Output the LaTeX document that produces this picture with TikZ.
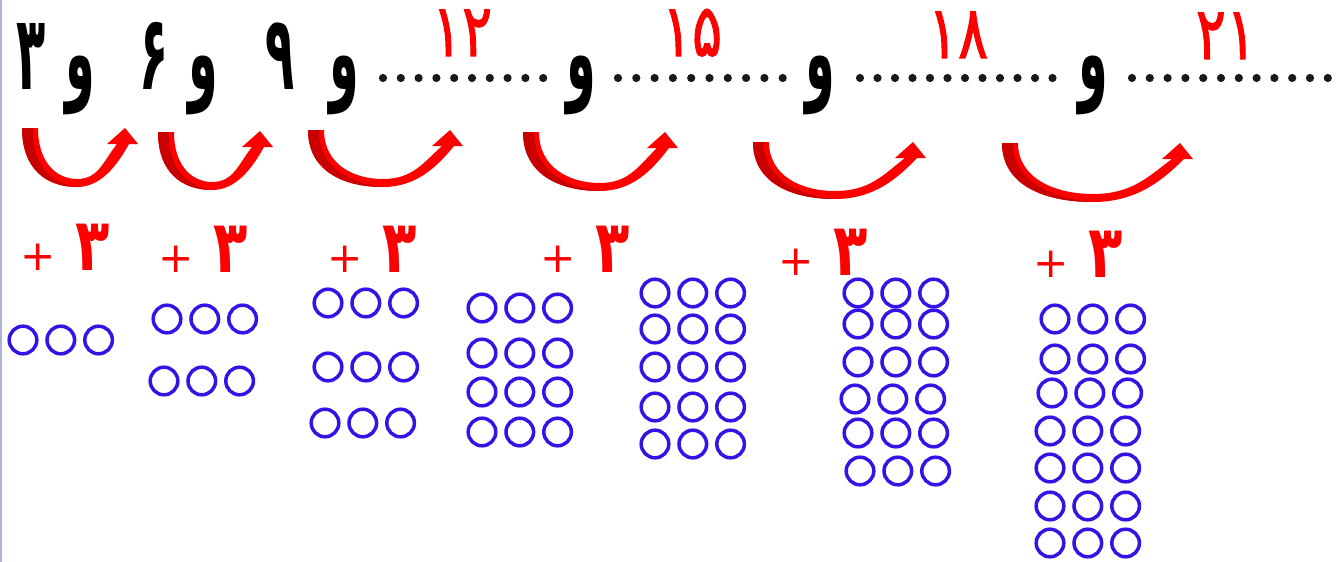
\documentclass[tikz,border=0pt]{standalone}
\usepackage{fontspec}
\usepackage{graphicx}
\newfontfamily\persianfont[Script=Arabic]{DejaVu Sans}
\newfontfamily\persianmedium[Script=Arabic,FakeBold=1.6]{DejaVu Sans}
\definecolor{beadblue}{RGB}{50,20,230}
\definecolor{hopdark}{RGB}{200,0,0}
\definecolor{edgeblue}{RGB}{170,180,215}
\newcommand{\tallnum}[1]{\scalebox{0.85}[1.85]{#1}}
\newcommand{\rednumber}[1]{\scalebox{1}[1.3]{#1}}
% #1,#2 start of the arrow, #3,#4 lowest point, #5,#6 tip
\newcommand{\hop}[6]{%
	\fill[hop] (#1,#2) .. controls (#1,{#2+0.7*(#4-#2)}) and ({#3-0.55*(#3-#1)},#4) .. (#3,#4)
		.. controls ({#3+0.5*(#5-#3)},#4) and ({#5+4-0.25*(#5-#3)},{0.5*(#6+16+#4)}) .. ({#5+4},{#6+16})
		-- ({#5+13},{#6+16}) -- (#5,#6) -- ({#5-18},{#6+16}) -- ({#5-8},{#6+16})
		.. controls ({#5-10-0.25*(#5-#3)},{0.5*(#6+8+#4)}) and ({#3+0.45*(#5-#3)},{#4-8}) .. (#3,{#4-8})
		.. controls ({#3-0.5*(#3-#1-16)},{#4-8}) and ({#1+16},{#2+0.7*(#4-#2-8)}) .. ({#1+16},#2) -- cycle;
	\fill[hopshade] (#1,#2) .. controls (#1,{#2+0.7*(#4-#2)}) and ({#3-0.55*(#3-#1)},#4) .. (#3,#4)
		.. controls ({#3-0.5*(#3-#1)},{#4-4}) and ({#1+10},{#2+0.6*(#4-#2)}) .. ({#1+11},#2) -- cycle;}
\begin{document}
\begin{tikzpicture}[x=0.03cm,y=-0.03cm]
	\tikzstyle{num}=[inner sep=0pt,anchor=base,font=\persianfont\bfseries\fontsize{48}{50}\selectfont]
	\tikzstyle{rednum}=[num,text=red,font=\persianmedium\fontsize{48}{50}\selectfont]
	\tikzstyle{plus}=[num,text=red]
	\tikzstyle{hop}=[fill=red]
	\tikzstyle{hopshade}=[fill=hopdark]
	\tikzstyle{dot}=[fill=black!90]
	\tikzstyle{bead}=[draw=beadblue,line width=3pt]
	\fill[white] (0,0) rectangle (1340,562);
	\useasboundingbox (0,0) rectangle (1340,562);
	\draw[edgeblue,line width=1.2pt] (0.8,0) -- (0.8,562);
	% the sequence
	\foreach \nm/\x/\t in {n3/31/۳, w1/80/و, n6/154/۶, w2/203/و, n9/280/۹, w3/344/و, w4/581/و, w5/820/و, w6/1093/و} {\node[num] (\nm) at (\x,90) {\tallnum{\t}};}
	\foreach \a/\b/\n in {383/17.8/10, 618/18.3/10, 860/17.5/12, 1132/17.8/12} {\foreach \k in {1,...,\n} \fill[dot] ({\a+(\k-1)*\b},78) circle[radius=4.1];}
	\foreach \nm/\x/\y/\t in {n12/462/56/۱۲, n15/692/56/۱۵, n18/958/58/۱۸, n21/1226/59/۲۱} {\node[rednum] (\nm) at (\x,\y) {\rednumber{\t}};}
	% jumps of three
	\foreach \sx/\sy/\bx/\by/\tx/\ty in {22/128/77/187/125/128, 158/132/212/190/260/131, 308/130/383/187/450/130, 523/132/600/191/665/132, 753/142/835/199/913/142, 1002/143/1093/202/1180/143} {\hop{\sx}{\sy}{\bx}{\by}{\tx}{\ty}}
	\foreach \i/\x/\y in {1/65/270, 2/203/272, 3/372/272, 4/585/272, 5/823/275, 6/1078/277} {\node[plus] (p\i) at (\x,\y) {{\fontsize{36}{40}\selectfont\mdseries +} \rednumber{۳}};}
	% counters
	\foreach \rows in {{23/340}, {167/319,164/381}, {328/303,328/367,325/423}, {482/308,482/353,482/392,482/432}, {655/293,655/329,655/367,655/407,655/444}, {858/293,858/324,858/362,855/399,858/433,860/471}, {1055/319,1055/359,1052/393,1050/431,1050/468,1050/506,1050/543}} {\foreach \x/\y in \rows {\foreach \k in {0,1,2} \draw[bead] ({\x+\k*37.8},\y) circle[radius=13.8];}}
\end{tikzpicture}
\end{document}
